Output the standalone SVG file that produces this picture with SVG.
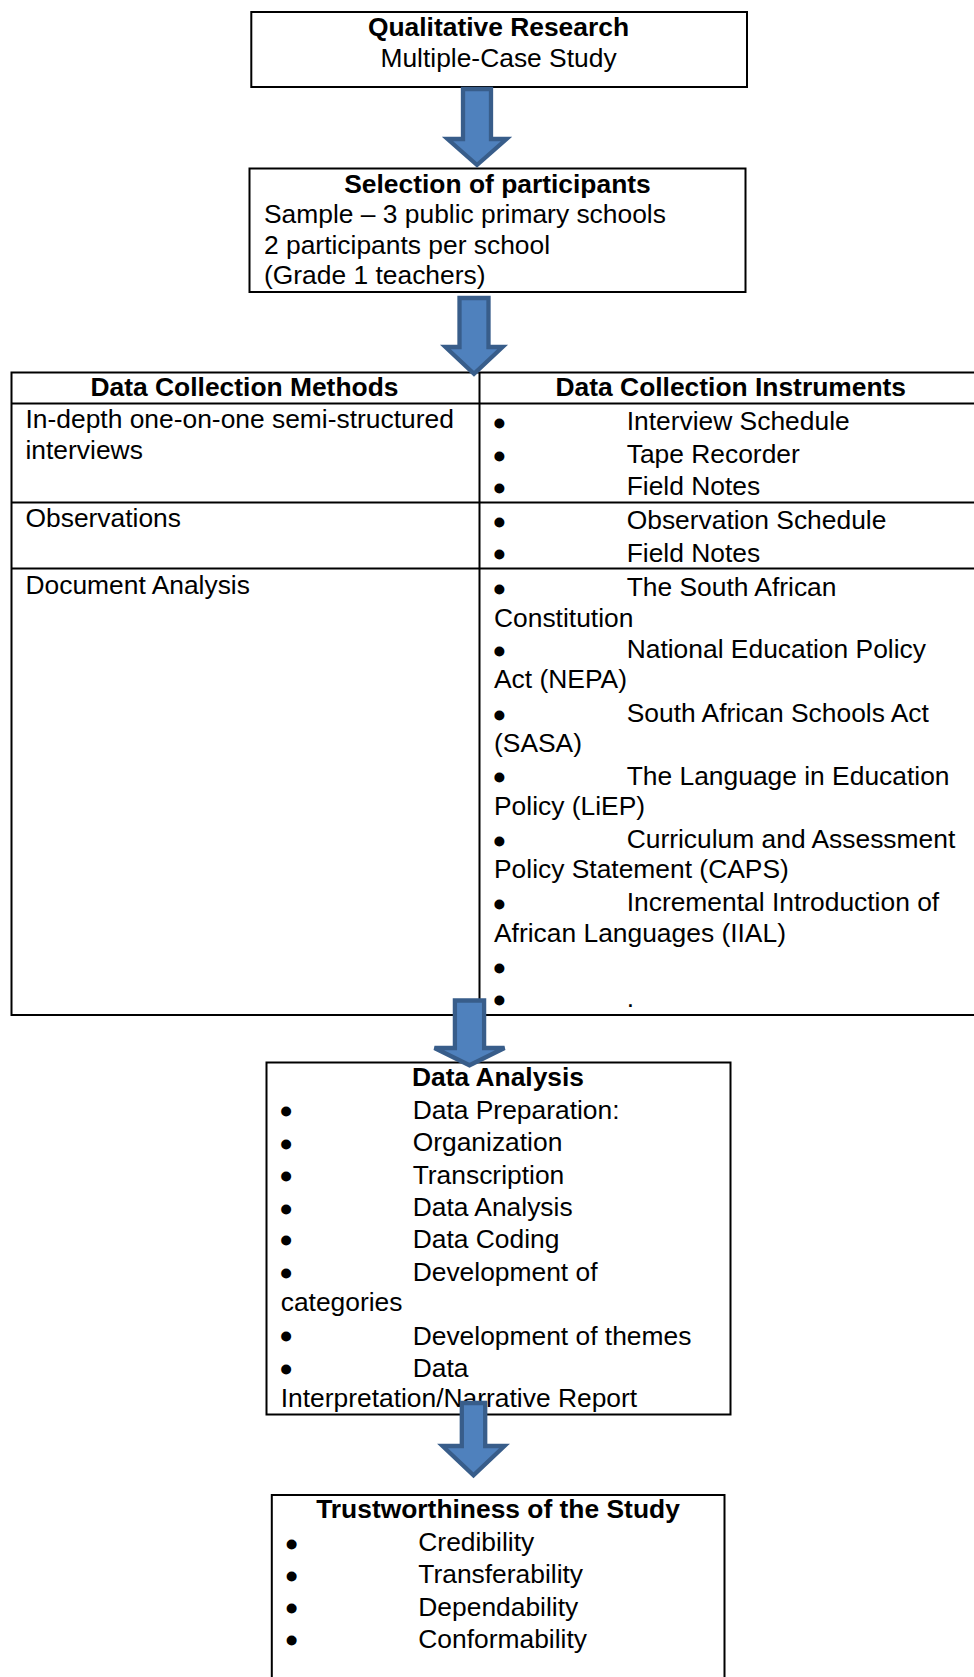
<svg xmlns="http://www.w3.org/2000/svg" width="974" height="1677" viewBox="0 0 974 1677">
  <style>
    .box { fill: #ffffff; stroke: #000000; stroke-width: 2; }
    .rule { fill: none; stroke: #000000; stroke-width: 2; }
    .t { font-family: "Liberation Sans", Arial, sans-serif; font-size: 26.4px; fill: #000000; }
    .b { font-weight: bold; }
    .c { text-anchor: middle; }
    .bul { font-family: "Liberation Sans", Arial, sans-serif; font-size: 26.4px; fill: #000000; stroke: #000000; stroke-width: 2.8; text-anchor: middle; }
    .arrow { fill: #4F81BD; stroke: #385D8A; stroke-width: 4.3; stroke-linejoin: miter; }
  </style>

  <rect x="0" y="0" width="974" height="1677" fill="#ffffff"/>

  <!-- Research design -->
  <g id="qualitative-research">
    <rect class="box" x="251.3" y="12" width="495.7" height="75"/>
    <text class="t b c" x="498.5" y="36">Qualitative Research</text>
    <text class="t c" x="498.5" y="66.7">Multiple-Case Study</text>
  </g>

  <!-- Sampling -->
  <g id="selection-of-participants">
    <rect class="box" x="249.5" y="168.5" width="496" height="123.5"/>
    <text class="t b c" x="497.5" y="192.5">Selection of participants</text>
    <text class="t" x="264" y="222.5">Sample – 3 public primary schools</text>
    <text class="t" x="264" y="253.5">2 participants per school</text>
    <text class="t" x="264" y="284">(Grade 1 teachers)</text>
  </g>

  <!-- Methods / instruments table -->
  <g id="data-collection">
    <path class="rule" d="M11.5 372.5 H974 M11.5 403.4 H974 M11.5 502.6 H974 M11.5 568.6 H974 M11.5 1015 H974 M11.5 371.5 V1016 M479.5 371.5 V1016"/>
    <text class="t b c" x="244.5" y="395.5">Data Collection Methods</text>
    <text class="t b c" x="730.8" y="395.5">Data Collection Instruments</text>

    <text class="t" x="25.5" y="427.7">In-depth one-on-one semi-structured</text>
    <text class="t" x="25.5" y="459.3">interviews</text>
    <text class="t" x="25.5" y="527.3">Observations</text>
    <text class="t" x="25.5" y="594">Document Analysis</text>

    <text class="bul" x="499.3" y="431.8">•</text>
    <text class="t" x="626.7" y="430">Interview Schedule</text>
    <text class="bul" x="499.3" y="464.5">•</text>
    <text class="t" x="626.7" y="462.7">Tape Recorder</text>
    <text class="bul" x="499.3" y="496.5">•</text>
    <text class="t" x="626.7" y="495">Field Notes</text>

    <text class="bul" x="499.3" y="531">•</text>
    <text class="t" x="626.7" y="529.3">Observation Schedule</text>
    <text class="bul" x="499.3" y="563">•</text>
    <text class="t" x="626.7" y="561.7">Field Notes</text>

    <text class="bul" x="499.3" y="597.7">•</text>
    <text class="t" x="626.7" y="596">The South African</text>
    <text class="t" x="494" y="626.7">Constitution</text>
    <text class="bul" x="499.3" y="660.3">•</text>
    <text class="t" x="626.7" y="658.3">National Education Policy</text>
    <text class="t" x="494" y="688.3">Act (NEPA)</text>
    <text class="bul" x="499.3" y="723.7">•</text>
    <text class="t" x="626.7" y="721.7">South African Schools Act</text>
    <text class="t" x="494" y="751.7">(SASA)</text>
    <text class="bul" x="499.3" y="786">•</text>
    <text class="t" x="626.7" y="785">The Language in Education</text>
    <text class="t" x="494" y="815">Policy (LiEP)</text>
    <text class="bul" x="499.3" y="849.7">•</text>
    <text class="t" x="626.7" y="848.3">Curriculum and Assessment</text>
    <text class="t" x="494" y="878.3">Policy Statement (CAPS)</text>
    <text class="bul" x="499.3" y="912.7">•</text>
    <text class="t" x="626.7" y="910.7">Incremental Introduction of</text>
    <text class="t" x="494" y="941.7">African Languages (IIAL)</text>
    <text class="bul" x="499.3" y="977">•</text>
    <text class="bul" x="499.3" y="1008.7">•</text>
    <text class="t" x="626.7" y="1007">.</text>
  </g>

  <!-- Analysis steps -->
  <g id="data-analysis">
    <rect class="box" x="266.5" y="1062.5" width="464" height="352"/>
    <text class="t b c" x="498" y="1086">Data Analysis</text>
    <text class="bul" x="286" y="1120.4">•</text>
    <text class="t" x="412.7" y="1119.3">Data Preparation:</text>
    <text class="bul" x="286" y="1152.7">•</text>
    <text class="t" x="412.7" y="1151">Organization</text>
    <text class="bul" x="286" y="1185.4">•</text>
    <text class="t" x="412.7" y="1184.3">Transcription</text>
    <text class="bul" x="286" y="1217.7">•</text>
    <text class="t" x="412.7" y="1216">Data Analysis</text>
    <text class="bul" x="286" y="1249.4">•</text>
    <text class="t" x="412.7" y="1248.3">Data Coding</text>
    <text class="bul" x="286" y="1282">•</text>
    <text class="t" x="412.7" y="1281">Development of</text>
    <text class="t" x="280.7" y="1311">categories</text>
    <text class="bul" x="286" y="1345.4">•</text>
    <text class="t" x="412.7" y="1344.5">Development of themes</text>
    <text class="bul" x="286" y="1378">•</text>
    <text class="t" x="412.7" y="1376.5">Data</text>
    <text class="t" x="280.7" y="1407.3">Interpretation/Narrative Report</text>
  </g>

  <!-- Quality criteria -->
  <g id="trustworthiness">
    <rect class="box" x="271.8" y="1495" width="452.7" height="200"/>
    <text class="t b c" x="498" y="1518.3">Trustworthiness of the Study</text>
    <text class="bul" x="291.7" y="1552.7">•</text>
    <text class="t" x="418.3" y="1551.3">Credibility</text>
    <text class="bul" x="291.7" y="1584.7">•</text>
    <text class="t" x="418.3" y="1583.3">Transferability</text>
    <text class="bul" x="291.7" y="1617.4">•</text>
    <text class="t" x="418.3" y="1615.7">Dependability</text>
    <text class="bul" x="291.7" y="1649.4">•</text>
    <text class="t" x="418.3" y="1647.7">Conformability</text>
  </g>

  <!-- Block arrows between stages -->
  <g id="connectors">
    <path class="arrow" d="M463 89 H491 V139 H506.5 L477 165 L447.5 139 H463 Z"/>
    <path class="arrow" d="M459.5 298 H488.5 V347 H502.6 L474 373.8 L445.4 347 H459.5 Z"/>
    <path class="arrow" d="M454.9 1000.5 H484.1 V1048 H504.5 L469.5 1065.3 L434.5 1048 H454.9 Z"/>
    <path class="arrow" d="M461.8 1403 H485.2 V1446 H504.5 L473.5 1475.3 L442.5 1446 H461.8 Z"/>
  </g>
</svg>
